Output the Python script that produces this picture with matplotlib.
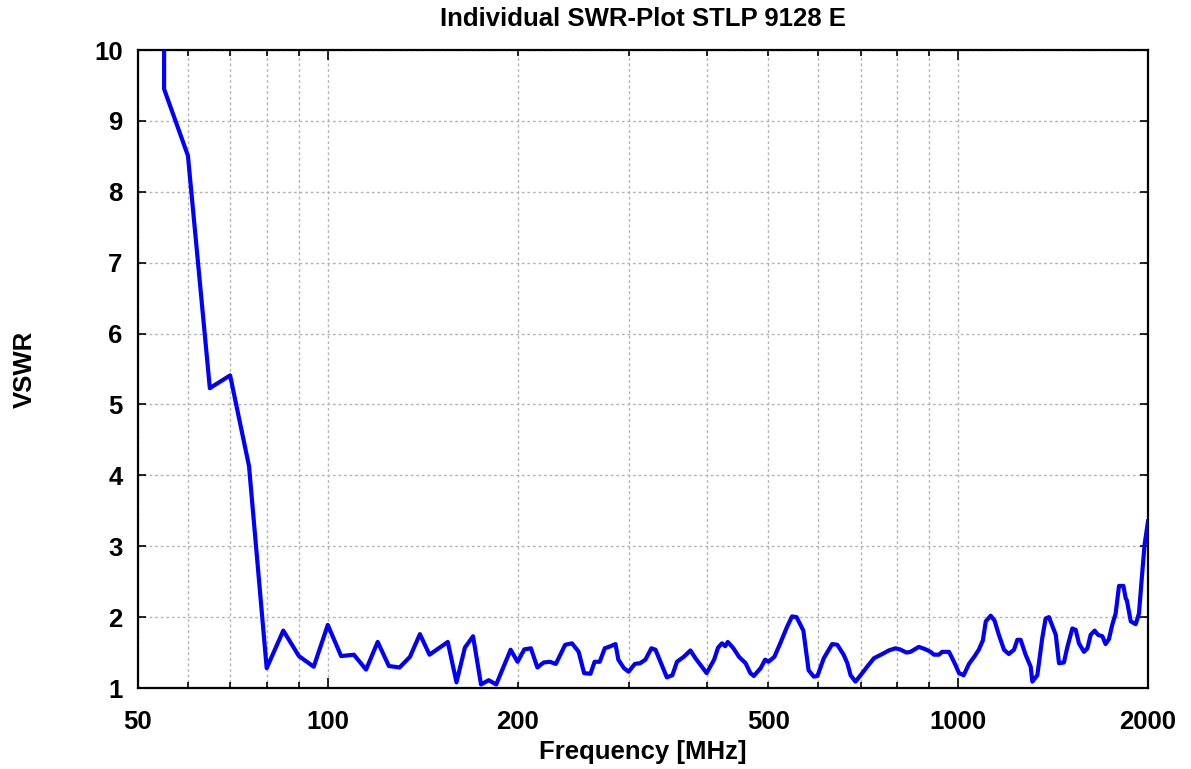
import matplotlib
matplotlib.use("Agg")
import matplotlib.pyplot as plt
from matplotlib.ticker import FixedLocator, FixedFormatter

# ---- data ----
freq_mhz = [55, 55, 60, 65, 70, 75, 80, 85, 90, 95, 100, 105, 110, 115, 120, 125, 130, 135,
            140, 145, 155, 160, 165, 170, 175, 180, 185, 195, 200, 205, 210, 215, 220, 225,
            230, 238, 244, 250, 255, 261, 265, 270, 275, 281, 286, 289, 295, 300, 307, 313,
            319, 326, 331, 337, 345, 352, 358, 367, 376, 383, 399, 410, 416, 422, 427, 431,
            440, 449, 460, 468, 474, 486, 494, 500, 511, 522, 535, 545, 554, 568, 579, 590,
            598, 612, 631, 643, 658, 667, 675, 687, 700, 717, 735, 758, 776, 795, 808, 828,
            840, 866, 888, 904, 915, 932, 943, 967, 987, 1003, 1020, 1040, 1062, 1078, 1094,
            1106, 1126, 1142, 1160, 1182, 1203, 1226, 1241, 1256, 1279, 1303, 1311, 1335,
            1359, 1376, 1393, 1428, 1445, 1471, 1490, 1517, 1536, 1554, 1583, 1603, 1622,
            1646, 1666, 1693, 1713, 1734, 1755, 1777, 1799, 1828, 1844, 1851, 1878, 1912,
            1935, 1951, 1975, 2000]
vswr = [11.0, 9.45, 8.51, 5.23, 5.41, 4.13, 1.28, 1.81, 1.45, 1.30, 1.89, 1.45, 1.47, 1.26,
        1.65, 1.31, 1.29, 1.44, 1.76, 1.47, 1.65, 1.08, 1.57, 1.73, 1.05, 1.11, 1.05, 1.54,
        1.37, 1.545, 1.56, 1.29, 1.36, 1.37, 1.34, 1.61, 1.63, 1.51, 1.21, 1.20, 1.37, 1.37,
        1.56, 1.59, 1.62, 1.40, 1.28, 1.23, 1.34, 1.35, 1.40, 1.56, 1.54, 1.37, 1.15, 1.18,
        1.37, 1.44, 1.53, 1.42, 1.21, 1.40, 1.57, 1.63, 1.59, 1.65, 1.56, 1.44, 1.35, 1.21,
        1.17, 1.28, 1.40, 1.37, 1.44, 1.63, 1.86, 2.01, 2.00, 1.81, 1.25, 1.16, 1.17, 1.42,
        1.62, 1.61, 1.47, 1.35, 1.18, 1.09, 1.18, 1.30, 1.42, 1.48, 1.53, 1.56, 1.545, 1.50,
        1.51, 1.58, 1.545, 1.51, 1.47, 1.47, 1.51, 1.51, 1.35, 1.21, 1.18, 1.34, 1.45, 1.54,
        1.67, 1.94, 2.02, 1.95, 1.75, 1.54, 1.48, 1.54, 1.68, 1.68, 1.47, 1.30, 1.09, 1.18,
        1.70, 1.98, 2.00, 1.75, 1.35, 1.36, 1.58, 1.84, 1.82, 1.63, 1.51, 1.56, 1.75, 1.81,
        1.75, 1.73, 1.62, 1.69, 1.89, 2.05, 2.44, 2.44, 2.26, 2.24, 1.94, 1.90, 2.05, 2.45,
        3.02, 3.35]

x_major = [100, 1000]
x_minor = [50, 60, 70, 80, 90, 200, 300, 400, 500, 600, 700, 800, 900, 2000]
x_minor_labels = ["50", "", "", "", "", "200", "", "", "500", "", "", "", "", "2000"]
y_ticks = [1, 2, 3, 4, 5, 6, 7, 8, 9, 10]

title = "Individual SWR-Plot STLP 9128 E"
xlabel = "Frequency [MHz]"
ylabel = "VSWR"

# ---- plot ----
plt.rcParams['font.family'] = ['Liberation Sans', 'DejaVu Sans']
plt.rcParams['font.weight'] = 'bold'

fig = plt.figure(figsize=(11.91, 7.69), dpi=100)
ax = fig.add_axes([138/1191, 1 - 688/769, (1148-138)/1191, (688-50)/769])

ax.plot(freq_mhz, vswr, color='#0000ff', lw=3.0, solid_joinstyle='round', clip_on=True, zorder=3)

ax.set_xscale('log')
ax.set_xlim(50, 2000)
ax.set_ylim(1, 10)

ax.xaxis.set_major_locator(FixedLocator(x_major))
ax.xaxis.set_major_formatter(FixedFormatter([str(v) for v in x_major]))
ax.xaxis.set_minor_locator(FixedLocator(x_minor))
ax.xaxis.set_minor_formatter(FixedFormatter(x_minor_labels))
ax.set_yticks(y_ticks)
ax.set_yticklabels([str(v) for v in y_ticks])

grid_kw = dict(color='#b4b4b4', linestyle=(0, (2.0, 2.0)), linewidth=1.0)
ax.grid(True, which='major', axis='both', **grid_kw)
ax.grid(True, which='minor', axis='x', **grid_kw)

ax.tick_params(axis='both', which='both', direction='in', top=True, right=True,
               labelsize=18.5, width=1.2, color='black')
ax.tick_params(axis='x', which='major', length=7, pad=16)
ax.tick_params(axis='x', which='minor', length=4, pad=16)
ax.tick_params(axis='y', which='major', length=6, pad=11)
for lab in ax.get_xticklabels(which='both') + ax.get_yticklabels():
    lab.set_fontweight('bold')

for sp in ax.spines.values():
    sp.set_linewidth(1.6)
    sp.set_color('black')

ax.set_title(title, fontsize=18.5, fontweight='bold', pad=17)
ax.set_xlabel(xlabel, fontsize=18.5, fontweight='bold', labelpad=4)
ax.set_ylabel(ylabel, fontsize=18.5, fontweight='bold', labelpad=41)

fig.savefig('out.png', dpi=100)
